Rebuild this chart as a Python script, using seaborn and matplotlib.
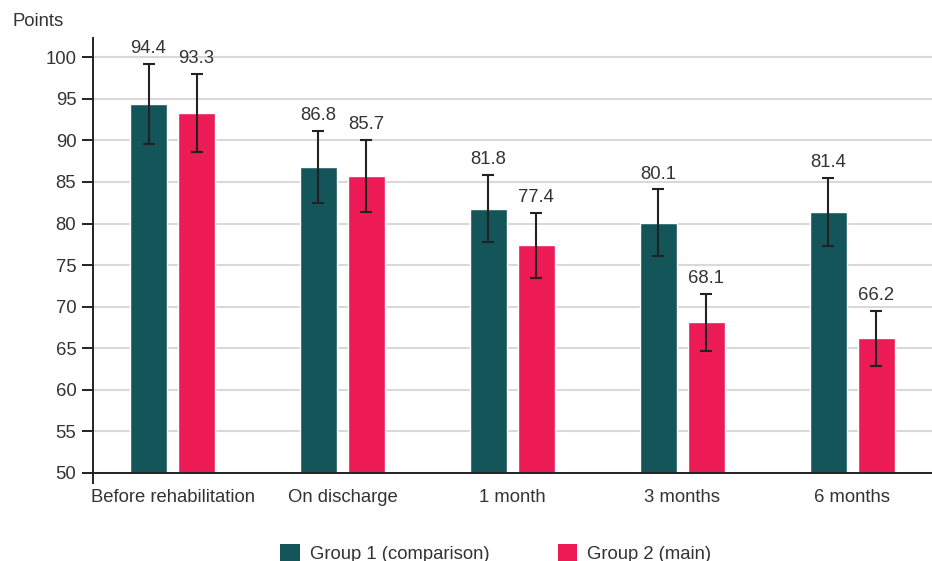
import pandas as pd
import matplotlib.pyplot as plt
import seaborn as sns
from matplotlib.patches import Patch

# 数据
categories = ['Before rehabilitation', 'On discharge', '1 month', '3 months', '6 months']
groups = ['Group 1 (comparison)', 'Group 2 (main)']
group1_values = [94.4, 86.8, 81.8, 80.1, 81.4]
group2_values = [93.3, 85.7, 77.4, 68.1, 66.2]
group1_err = [4.8, 4.3, 4.05, 4.0, 4.1]
group2_err = [4.65, 4.3, 3.9, 3.4, 3.3]
y_ticks = [50, 55, 60, 65, 70, 75, 80, 85, 90, 95, 100]

colors = ['#14555a', '#ec1a55']
text_color = '#333333'
fs = 13.3

df = pd.DataFrame({
    'period': categories * 2,
    'group': [groups[0]] * len(categories) + [groups[1]] * len(categories),
    'points': group1_values + group2_values,
})
errs = [group1_err, group2_err]
values = [group1_values, group2_values]

sns.set_style('white')
plt.rcParams['font.family'] = ['Liberation Sans', 'DejaVu Sans']

fig = plt.figure(figsize=(9.32, 5.61), dpi=100)
ax = fig.add_axes([0.0998, 0.1569, 0.9002, 0.7751])

sns.barplot(data=df, x='period', y='points', hue='group', hue_order=groups,
            order=categories, palette=colors, width=0.565, gap=0.23,
            saturation=1, legend=False, ax=ax, zorder=2)

# 误差线和数值标签
bar_containers = list(ax.containers)
for i, cont in enumerate(bar_containers):
    xs = [b.get_x() + b.get_width() / 2 for b in cont.patches]
    ax.errorbar(xs, values[i], yerr=errs[i], fmt='none', ecolor='#222222',
                elinewidth=1.5, capsize=4.3, capthick=1.5, zorder=3)
    for x, v, e in zip(xs, values[i], errs[i]):
        ax.annotate(f'{v:.1f}', (x, v + e), xytext=(0, 5), textcoords='offset points',
                    ha='center', va='bottom', fontsize=fs, color=text_color)

ax.set_ylim(50, 102.3)
ax.set_xlim(-0.468, 4.47)
ax.set_yticks(y_ticks)
ax.yaxis.grid(True, color='#d9d9d9', linewidth=1.5, zorder=0)
ax.set_axisbelow(True)
ax.set_xlabel('')
ax.set_ylabel('')

for side in ['top', 'right']:
    ax.spines[side].set_visible(False)
for side in ['left', 'bottom']:
    ax.spines[side].set_color('#222222')
    ax.spines[side].set_linewidth(1.4)
ax.spines['left'].set_bounds(48.8, 102.3)

ax.tick_params(axis='y', which='both', left=True, length=8, width=1.4, color='#222222',
               labelsize=fs, labelcolor=text_color, pad=4)
ax.tick_params(axis='x', bottom=False, labelsize=fs, labelcolor=text_color, pad=8)

fig.text(12 / 932, 1 - 22 / 561, 'Points', fontsize=fs, color=text_color, va='center', ha='left')

handles = [Patch(facecolor=c, edgecolor='none') for c in colors]
fig.legend(handles, groups, loc='center', bbox_to_anchor=(0.532, 0.014), ncol=2,
           frameon=False, fontsize=fs, handlelength=1.05, handleheight=1.05,
           handletextpad=0.55, columnspacing=3.7, labelcolor=text_color)

fig.savefig('out.png', dpi=100)
plt.close()
